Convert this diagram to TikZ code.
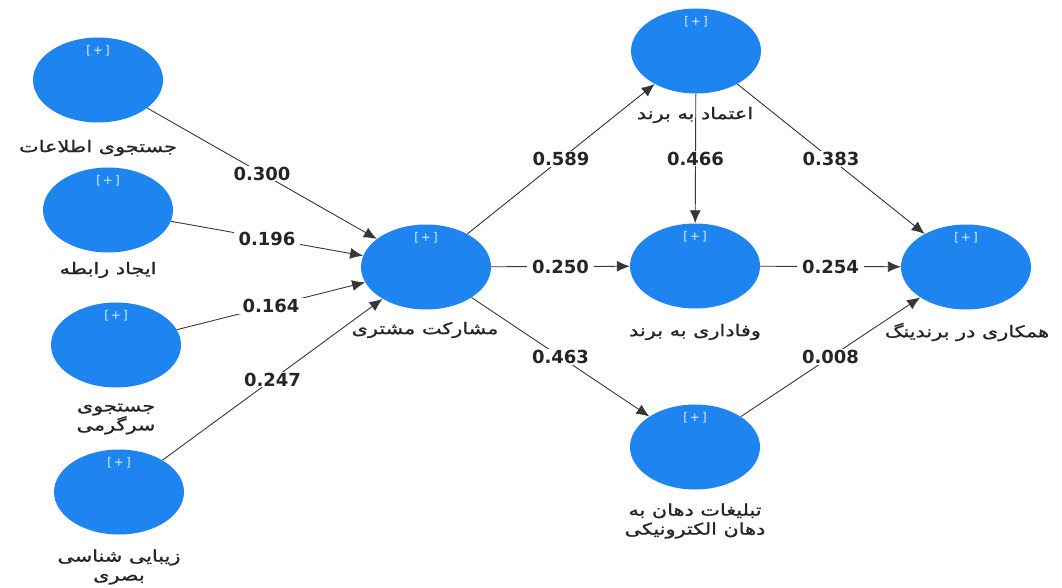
\documentclass[tikz,border=0pt]{standalone}
\usepackage{fontspec}
\setmainfont{DejaVu Sans}
\newfontfamily\fa[Script=Arabic,FakeStretch=1.3,FakeBold=1.2]{DejaVu Sans}
\TeXXeTstate=1
\usetikzlibrary{arrows.meta,shapes.geometric}
\definecolor{nodeblue}{RGB}{30,132,240}
\definecolor{edgegray}{RGB}{55,55,55}
\newcommand\plusmark{[\,+\,]}
\tikzset{
  lv/.style={ellipse, fill=nodeblue, draw=none, minimum width=130pt, minimum height=85pt, inner sep=0pt,
    label={[text=white!85!nodeblue, font=\fontsize{12}{12}\selectfont, label distance=-22pt]90:{\plusmark}}},
  nm/.style={font=\fa\fontsize{16}{19}\selectfont, align=center, text=black!85},
  pth/.style={draw=edgegray, line width=0.9pt, -{Latex[length=13pt,width=11pt]}},
  coef/.style={fill=white, inner xsep=5pt, inner ysep=1pt, text=black!85, font=\bfseries\fontsize{18}{18}\selectfont}
}
\begin{document}
\begin{tikzpicture}[x=1pt,y=-1pt]
\useasboundingbox[fill=white] (0,0) rectangle (1062,588);
% latent variables
\node[lv] (info) at (98,80) {};
\node[lv] (rel) at (108,210) {};
\node[lv] (ent) at (116,345) {};
\node[lv] (vis) at (119,492) {};
\node[lv] (eng) at (426,267) {};
\node[lv] (trust) at (696,51) {};
\node[lv] (loy) at (695,266) {};
\node[lv] (cob) at (966,267) {};
\node[lv] (ewom) at (695,447) {};
% connectors
\draw[pth] (info) -- node[coef] (c1) {0.300} (eng);
\draw[pth] (rel) -- node[coef] (c2) {0.196} (eng);
\draw[pth] (ent) -- node[coef] (c3) {0.164} (eng);
\draw[pth] (vis) -- node[coef] (c4) {0.247} (eng);
\draw[pth] (eng) -- node[coef] (c5) {0.589} (trust);
\draw[pth] (eng) -- node[coef] (c6) {0.250} (loy);
\draw[pth] (eng) -- node[coef] (c7) {0.463} (ewom);
\draw[pth] (trust) -- node[coef] (c8) {0.466} (loy);
\draw[pth] (trust) -- node[coef] (c9) {0.383} (cob);
\draw[pth] (loy) -- node[coef] (c10) {0.254} (cob);
\draw[pth] (ewom) -- node[coef] (c11) {0.008} (cob);
% names
\node[nm] (tinfo) at (98,148) {\beginR جستجوی اطلاعات\endR};
\node[nm] (trel) at (108,270) {\beginR ایجاد رابطه\endR};
\node[nm] (tent) at (116,419) {\beginR جستجوی\endR\\\beginR سرگرمی\endR};
\node[nm] (tvis) at (119,567) {\beginR زیبایی شناسی\endR\\\beginR بصری\endR};
\node[nm] (teng) at (425,330) {\beginR مشارکت مشتری\endR};
\node[nm] (ttrust) at (695,115) {\beginR اعتماد به برند\endR};
\node[nm] (tloy) at (695,332) {\beginR وفاداری به برند\endR};
\node[nm] (tcob) at (967,332) {\beginR همکاری در برندینگ\endR};
\node[nm] (tewom) at (695,521) {\beginR تبلیغات دهان به\endR\\\beginR دهان الکترونیکی\endR};
\end{tikzpicture}
\end{document}
